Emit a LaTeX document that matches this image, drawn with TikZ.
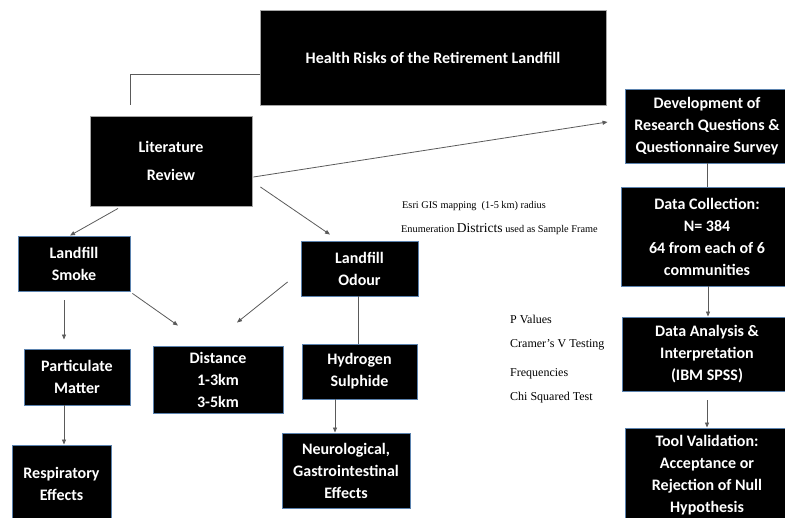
\documentclass[tikz,border=0pt]{standalone}
\usepackage{fontspec}
\setmainfont{Liberation Serif}
\newfontfamily\boxfont{Carlito}
\usetikzlibrary{arrows.meta,calc}
\definecolor{boxline}{HTML}{5B82AE}
\definecolor{conn}{HTML}{5A5A5A}
\begin{document}
\begin{tikzpicture}[x=1pt,y=-1pt,
  bx/.style={fill=black, draw=boxline, line width=0.9pt, text=white,
    font=\boxfont\bfseries\fontsize{16}{22}\selectfont, align=center, inner sep=0pt},
  gbx/.style={bx, draw=gray!70},
  ann/.style={font=\fontsize{10.3}{12}\selectfont, inner sep=0pt, anchor=base west},
  annb/.style={font=\fontsize{12}{14}\selectfont, inner sep=0pt, anchor=base west},
  conn/.style={draw=conn, line width=0.8pt},
  arr/.style={conn, -{Triangle[length=5pt,width=4pt]}}
]
\useasboundingbox (0,0) rectangle (785,518);
\clip (0,0) rectangle (785,518);

% boxes
\node[gbx, minimum width=346pt, minimum height=95pt] (title) at (433,57.5) {Health Risks of the Retirement Landfill};
\node[gbx, minimum width=162pt, minimum height=90pt, font=\boxfont\bfseries\fontsize{16}{28}\selectfont] (lit) at (171,161) {Literature\\Review};
\node[bx, minimum width=112pt, minimum height=55pt] (smoke) at (74,263.5) {Landfill\\Smoke};
\node[bx, minimum width=106pt, minimum height=56pt] (part) at (77,377) {Particulate\\Matter};
\node[bx, minimum width=99pt, minimum height=77pt] (resp) at (61.5,483.5) {Respiratory\\Effects};
\node[bx, minimum width=130pt, minimum height=67pt] (dist) at (218,379.5) {Distance\\1-3km\\3-5km};
\node[bx, minimum width=117pt, minimum height=55pt] (odour) at (359.5,268.5) {Landfill\\Odour};
\node[bx, minimum width=115pt, minimum height=55pt] (hyd) at (359.5,371.5) {Hydrogen\\Sulphide};
\node[bx, minimum width=128pt, minimum height=75pt] (neuro) at (346,470.5) {Neurological,\\Gastrointestinal\\Effects};
\node[bx, minimum width=164pt, minimum height=74pt] (dev) at (707,126) {Development of\\Research Questions \&\\Questionnaire Survey};
\node[bx, minimum width=172pt, minimum height=99pt] (dc) at (707,236.5) {Data Collection:\\N= 384\\64 from each of 6\\communities};
\node[bx, minimum width=170pt, minimum height=74pt] (da) at (707,354) {Data Analysis \&\\Interpretation\\(IBM SPSS)};
\node[bx, minimum width=164pt, minimum height=95pt] (tv) at (707,475.5) {Tool Validation:\\Acceptance or\\Rejection of Null\\Hypothesis};

% free texts
\node[ann] (esri) at (402,209) {Esri GIS mapping\ \ (1-5 km) radius};
\node[ann] (enum) at (401,233) {Enumeration {\fontsize{13.5}{14}\selectfont Districts} used as Sample Frame};
\node[annb] (pval) at (510,324) {P Values};
\node[annb] (cram) at (510,348) {Cramer’s V Testing};
\node[annb] (freq) at (510,377) {Frequencies};
\node[annb] (chi) at (510,401) {Chi Squared Test};

% connectors
\draw[conn] ([yshift=-16.5pt]title.west) -| ([xshift=-41pt,yshift=11pt]lit.north);
\draw[arr] ([xshift=1pt,yshift=-16pt]lit.east) -- ([xshift=-17pt,yshift=4pt]dev.west);
\draw[arr] ([xshift=-53pt,yshift=-2pt]lit.south) -- ([xshift=-4pt]smoke.north);
\draw[arr] ([xshift=8pt,yshift=-26pt]lit.east) -- ([xshift=-29.5pt,yshift=6pt]odour.north);
\draw[arr] ([xshift=-10pt,yshift=-9pt]smoke.south) -- ([xshift=-13pt,yshift=9pt]part.north);
\draw[arr] ([xshift=-13pt]part.south) -- ([xshift=2.5pt]resp.north);
\draw[arr] ([xshift=2pt,yshift=-2pt]smoke.south east) -- ([xshift=-40pt,yshift=20pt]dist.north);
\draw[arr] ([xshift=-13pt,yshift=-13.5pt]odour.west) -- ([xshift=19pt,yshift=23pt]dist.north);
\draw[conn] ([xshift=-1.5pt]odour.south) -- ([xshift=-1.5pt]hyd.north);
\draw[arr] ([xshift=-24.5pt]hyd.south) -- ([xshift=-11pt]neuro.north);
\draw[conn] (dev.south) -- (dc.north);
\draw[arr] ([xshift=1pt]dc.south) -- ([xshift=1pt]da.north);
\draw[arr] ([yshift=-9pt]da.south) -- (tv.north);
\end{tikzpicture}
\end{document}
